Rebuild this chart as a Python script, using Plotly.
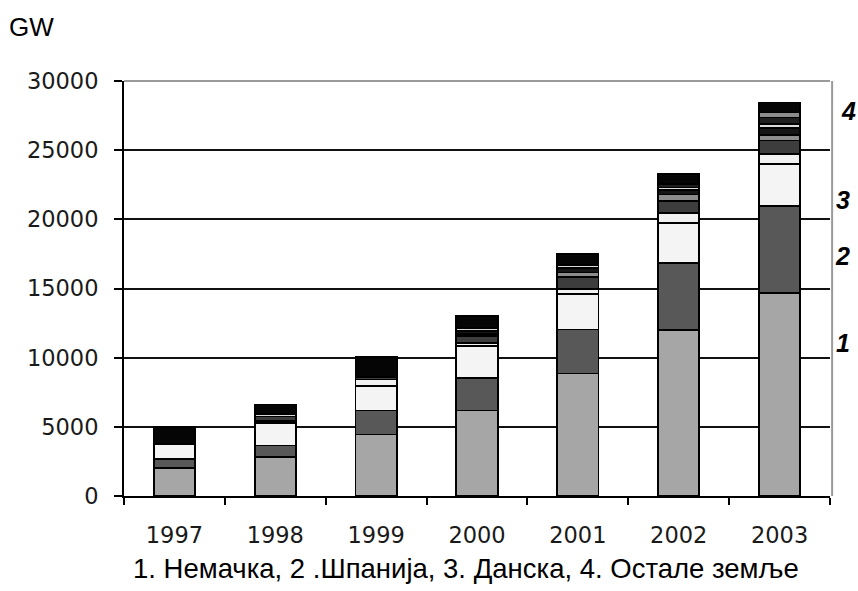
import plotly.graph_objects as go

# Installed wind capacity by year, stacked by country
years = ["1997", "1998", "1999", "2000", "2001", "2002", "2003"]

germany = [2050, 2820, 4440, 6180, 8850, 11980, 14680]
spain = [650, 830, 1740, 2360, 3180, 4870, 6260]
denmark = [1070, 1600, 1770, 2300, 2580, 2900, 3060]

# "Other countries" group, bottom to top
others_a = [None, 200, 470, 200, 350, 700, 700]
others_b = [None, 300, 200, 500, 900, 850, 1000]
others_c = [None, None, None, 200, 300, 500, 420]
others_d = [None, None, None, 200, 300, 300, 480]
others_e = [None, 200, None, 200, 250, 200, 280]
others_f = [None, None, None, None, None, 250, 480]
others_g = [None, None, None, None, None, None, 370]
others_h = [1200, 660, 1400, 900, 790, 750, 720]

y_ticks = [0, 5000, 10000, 15000, 20000, 25000, 30000]
y_tick_text = ["0", "5000", "10000", "15000", "20000", "25000", "30000"]

series = [
    ("Немачка", germany, "#a6a6a6"),
    ("Шпанија", spain, "#585858"),
    ("Данска", denmark, "#f4f4f4"),
    ("Остале a", others_a, "#f2f2f2"),
    ("Остале b", others_b, "#3d3d3d"),
    ("Остале c", others_c, "#8c8c8c"),
    ("Остале d", others_d, "#151515"),
    ("Остале e", others_e, "#d9d9d9"),
    ("Остале f", others_f, "#1e1e1e"),
    ("Остале g", others_g, "#8c8c8c"),
    ("Остале h", others_h, "#050505"),
]

fig = go.Figure()
for name, vals, color in series:
    fig.add_trace(go.Bar(
        x=years, y=vals, name=name,
        marker=dict(color=color, line=dict(color="#000000", width=1.8)),
        showlegend=False,
    ))

tick_font = dict(family="DejaVu Sans", size=22.5, color="#1a1a1a")

fig.update_layout(
    width=858, height=591,
    margin=dict(l=124, r=28, t=81, b=95),
    paper_bgcolor="white", plot_bgcolor="white",
    barmode="stack", bargap=0.59,
    xaxis=dict(
        type="category", showgrid=False,
        showline=True, linecolor="#000000", linewidth=2,
        ticks="outside", tickson="boundaries", ticklen=7, tickwidth=2, tickcolor="#000000",
        tickfont=tick_font, ticklabelstandoff=18,
    ),
    yaxis=dict(
        range=[0, 30000], tickvals=y_ticks, ticktext=y_tick_text,
        showgrid=True, gridcolor="#111111", gridwidth=1.8,
        zeroline=False,
        showline=True, linecolor="#000000", linewidth=2,
        ticks="outside", ticklen=8, tickwidth=2, tickcolor="#000000",
        tickfont=tick_font, ticklabelstandoff=11,
    ),
    shapes=[
        # grey frame on the top and right sides
        dict(type="line", xref="paper", yref="paper", x0=0, x1=1, y0=1, y1=1,
             line=dict(color="#9a9a9a", width=2)),
        dict(type="line", xref="paper", yref="paper", x0=1.003, x1=1.003, y0=0, y1=1,
             line=dict(color="#9a9a9a", width=2)),
    ],
)

label_font = dict(family="Liberation Sans", size=25, color="#000000",
                  weight="bold", style="italic")
for txt, yv, xv in [("4", 27850, 1.026), ("3", 21420, 1.018),
                    ("2", 17370, 1.018), ("1", 11090, 1.018)]:
    fig.add_annotation(text=txt, xref="paper", yref="y", x=xv, y=yv,
                       showarrow=False, font=label_font,
                       xanchor="center", yanchor="middle")

fig.add_annotation(text="GW", xref="paper", yref="paper",
                   x=(7 - 124) / 706, y=1 + (81 - 27) / 415,
                   xanchor="left", yanchor="middle", showarrow=False,
                   font=dict(family="Liberation Sans", size=26, color="#000000"))

fig.add_annotation(text="1. Немачка, 2 .Шпанија, 3. Данска, 4. Остале земље",
                   xref="paper", yref="paper",
                   x=(466 - 124) / 706, y=1 - (568 - 81) / 415,
                   xanchor="center", yanchor="middle", showarrow=False,
                   font=dict(family="Liberation Sans", size=27.5, color="#000000"))

fig.write_html("out.html")
